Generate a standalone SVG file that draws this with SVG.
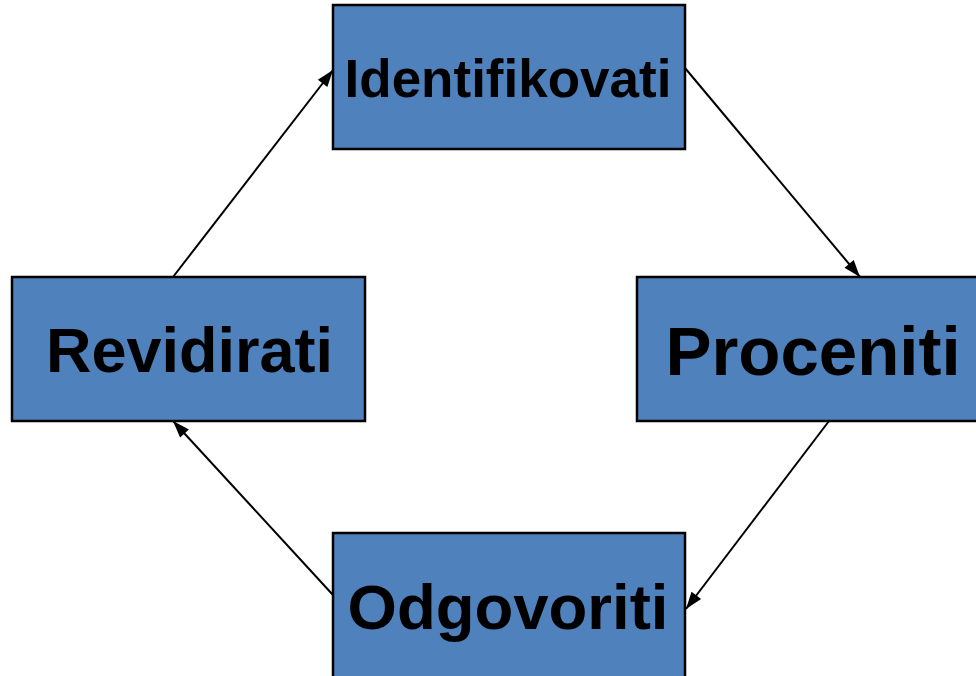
<svg xmlns="http://www.w3.org/2000/svg" width="976" height="676" viewBox="0 0 976 676">
<style>
.box{fill:#4F81BD;stroke:#000;stroke-width:2.5}
.lbl{font-family:"Liberation Sans",Arial,sans-serif;font-weight:bold;fill:#000;text-anchor:middle}
.conn{stroke:#000;stroke-width:2;fill:none;marker-end:url(#arr)}
</style>
<defs>
<marker id="arr" viewBox="0 0 17 12" refX="17" refY="6" markerWidth="17" markerHeight="12" markerUnits="userSpaceOnUse" orient="auto" overflow="visible">
<path d="M0,0 L17,6 L0,12 z" fill="#000"/>
</marker>
</defs>
<rect width="976" height="676" fill="#fff"/>
<g id="connectors">
<line class="conn" x1="173" y1="277" x2="333" y2="70"/>
<line class="conn" x1="685" y1="68" x2="860" y2="277"/>
<line class="conn" x1="829" y1="421" x2="686" y2="609"/>
<line class="conn" x1="333" y1="595" x2="173" y2="421"/>
</g>
<g id="identifikovati">
<rect class="box" x="333" y="5" width="352" height="144"/>
<text class="lbl" x="508" y="97" font-size="53">Identifikovati</text>
</g>
<g id="proceniti">
<rect class="box" x="637" y="277" width="352" height="144"/>
<text class="lbl" x="813" y="375" font-size="69">Proceniti</text>
</g>
<g id="odgovoriti">
<rect class="box" x="333" y="533" width="352" height="160"/>
<text class="lbl" x="508" y="629" font-size="63.5">Odgovoriti</text>
</g>
<g id="revidirati">
<rect class="box" x="12" y="277" width="353" height="144"/>
<text class="lbl" x="189.5" y="372" font-size="63">Revidirati</text>
</g>
</svg>
